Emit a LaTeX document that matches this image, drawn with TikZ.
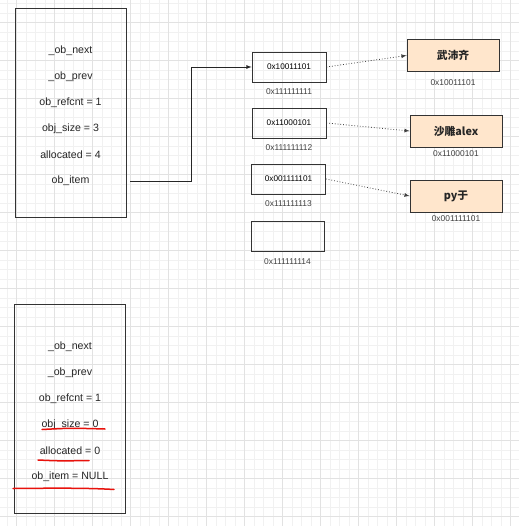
\documentclass[tikz,border=0pt]{standalone}
\usepackage{fontspec}
\setmainfont{Liberation Sans}
\newfontfamily\cjk{Noto Sans CJK SC}
\usetikzlibrary{positioning}

\definecolor{gridminor}{HTML}{F1F1F1}
\definecolor{gridmajor}{HTML}{E2E2E2}
\definecolor{valfill}{HTML}{FFE6CC}
\definecolor{markred}{HTML}{E8120C}

\begin{document}
\begin{tikzpicture}
    [
    x=1pt, y=-1pt,
    every node/.style={font=\fontsize{10.6}{12}\selectfont, text=black!85},
    structbox/.style={draw=black!80, thick, minimum width=111pt, minimum height=209pt, inner sep=0pt},
    field/.style={inner sep=0pt},
    cell/.style={draw=black!80, thick, minimum width=74pt, minimum height=30pt, inner sep=0pt, font=\fontsize{8.2}{9}\selectfont, text=black},
    addr/.style={inner sep=0pt, text=black!75, font=\fontsize{8.4}{9}\selectfont},
    valbox/.style={draw=black!80, thick, fill=valfill, minimum width=92pt, minimum height=32pt, inner sep=0pt, font=\cjk\bfseries\fontsize{10.8}{12}\selectfont},
    gridline/.style={draw=gridminor, line width=0.8pt},
    majorline/.style={draw=gridmajor, line width=0.9pt},
    ptr/.style={draw=black!85, thick, ->, >=latex},
    dotptr/.style={draw=black!75, thick, dotted, ->, >=latex},
    redmark/.style={draw=markred, line width=1.5pt, line cap=round},
    ]

    \useasboundingbox (0,0) rectangle (519,526);
    \fill[white] (0,0) rectangle (519,526);

    % background grid
    \foreach \x in {7.2,16.7,...,519} \draw[gridline] (\x,0) -- (\x,526);
    \foreach \y in {3.7,13.2,...,526} \draw[gridline] (0,\y) -- (519,\y);
    \foreach \x in {16.7,54.7,...,519} \draw[majorline] (\x,0) -- (\x,526);
    \foreach \y in {22.7,60.7,...,526} \draw[majorline] (0,\y) -- (519,\y);

    % the list object
    \node[structbox] (list) at (70.5,113) {};
    \begin{scope}[node distance=26pt, on grid]
    \node[field] (next) at (70.5,50.5) {\_ob\_next};
    \node[field, below=of next] (prev) {\_ob\_prev};
    \node[field, below=of prev] (refcnt) {ob\_refcnt = 1};
    \node[field, below=of refcnt] (size) {obj\_size = 3};
    \node[field, below=of size] (alloc) {allocated = 4};
    \node[field, below=of alloc] (item) {ob\_item};
    \end{scope}

    % the item array
    \node[cell] (cell1) at (289,67) {0x10011101};
    \node[cell] (cell2) at (289,123) {0x11000101};
    \node[cell] (cell3) at (288.5,179) {0x001111101};
    \node[cell, minimum width=73pt] (cell4) at (287.5,236) {};
    \node[addr, below=6pt of cell1] (adr1) {0x111111111};
    \node[addr, below=6pt of cell2] (adr2) {0x111111112};
    \node[addr, below=6pt of cell3] (adr3) {0x111111113};
    \node[addr, below=7pt of cell4] (adr4) {0x111111114};

    % the values
    \node[valbox] (val1) at (453,55.5) {武沛齐};
    \node[valbox] (val2) at (456,131) {沙雕alex};
    \node[valbox] (val3) at (456,196) {py于};
    \node[addr, below=8pt of val1] (vadr1) {0x10011101};
    \node[addr, below=3pt of val2] (vadr2) {0x11000101};
    \node[addr, below=3pt of val3] (vadr3) {0x001111101};

    \coordinate (itemout) at (130,181);
    \draw[ptr] (itemout) -- (191,181) |- (cell1.west);
    \draw[dotptr] (cell1.east) -- (val1.west);
    \draw[dotptr] (cell2.east) -- (val2.west);
    \draw[dotptr] (cell3.east) -- (val3.west);

    % the emptied list object
    \node[structbox] (empty) at (69.5,408.5) {};
    \begin{scope}[node distance=26pt, on grid]
    \node[field] (enext) at (70,346.5) {\_ob\_next};
    \node[field, below=of enext] (eprev) {\_ob\_prev};
    \node[field, below=of eprev] (erefcnt) {ob\_refcnt = 1};
    \node[field, below=of erefcnt] (esize) {obj\_size = 0};
    \node[field, below=of esize] (ealloc) {allocated = 0};
    \node[field, below=of ealloc] (eitem) {ob\_item = NULL};
    \end{scope}

    % red marks
    \draw[redmark] (42,429.5) .. controls (70,428) .. (105,429);
    \draw[redmark] (38,460) .. controls (60,461) .. (89,460.5);
    \draw[redmark] (13,488.5) .. controls (60,488) and (90,488) .. (114,489.5);
\end{tikzpicture}
\end{document}
